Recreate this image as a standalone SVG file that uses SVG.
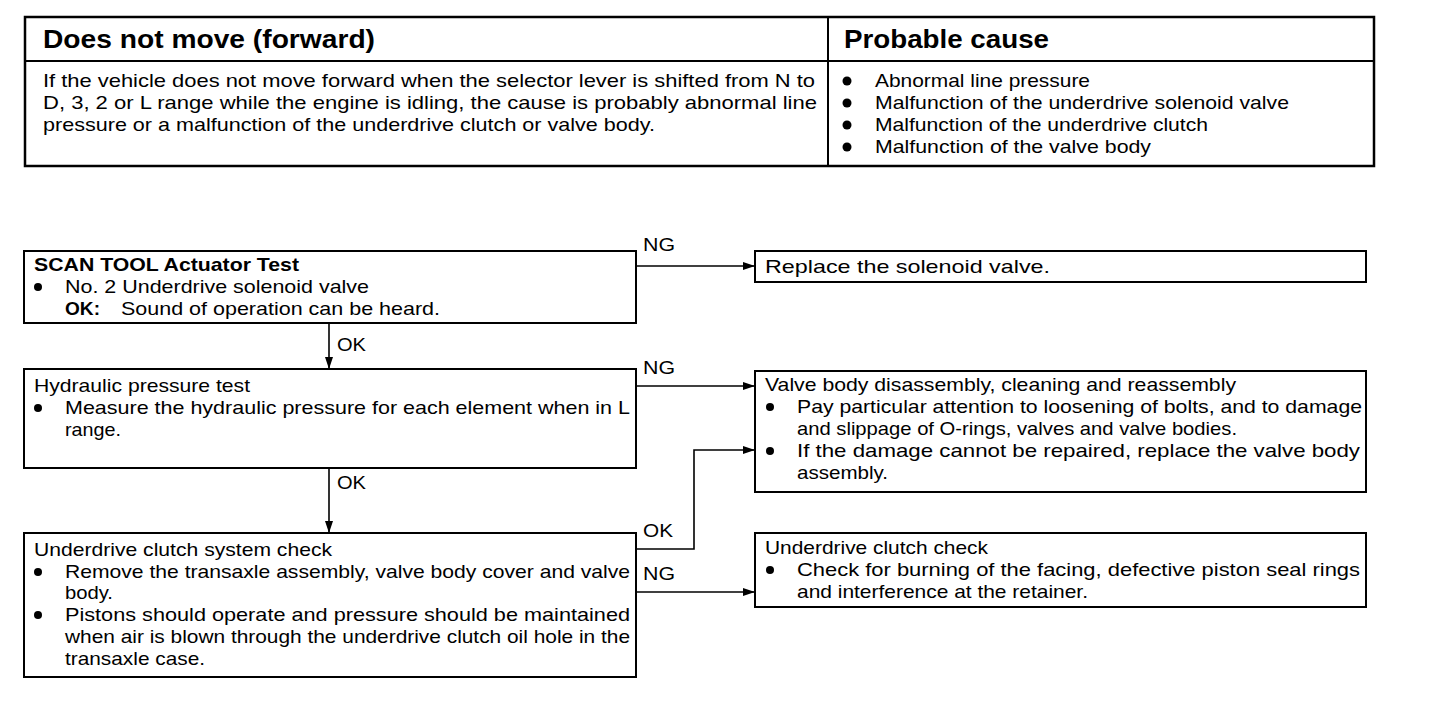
<svg xmlns="http://www.w3.org/2000/svg" width="1456" height="702" viewBox="0 0 1456 702">
<defs>
<style>
.t{font-family:"Liberation Sans",Arial,sans-serif;font-size:18.5px;fill:#000}
.b{font-weight:bold}
.h{font-family:"Liberation Sans",Arial,sans-serif;font-size:25px;font-weight:bold;fill:#000}
.box{fill:#fff;stroke:#000;stroke-width:2}
.ln{fill:none;stroke:#000;stroke-width:1.6}
</style>
<marker id="ah" viewBox="0 0 12 8" refX="12" refY="4" markerWidth="12" markerHeight="8" markerUnits="userSpaceOnUse" orient="auto">
<path d="M0,0 L12,4 L0,8 Z" fill="#000"/>
</marker>
</defs>
<rect width="1456" height="702" fill="#fff"/>

<g id="table">
<rect x="25" y="17" width="1349" height="149" fill="none" stroke="#000" stroke-width="2.5"/>
<line x1="25" y1="61" x2="1374" y2="61" stroke="#000" stroke-width="2"/>
<line x1="828" y1="17" x2="828" y2="166" stroke="#000" stroke-width="2"/>
<text class="h" x="43" y="48" textLength="332" lengthAdjust="spacingAndGlyphs">Does not move (forward)</text>
<text class="h" x="844" y="48" textLength="205" lengthAdjust="spacingAndGlyphs">Probable cause</text>
<text class="t" x="43" y="87" textLength="772" lengthAdjust="spacingAndGlyphs">If the vehicle does not move forward when the selector lever is shifted from N to</text>
<text class="t" x="43" y="109" textLength="774" lengthAdjust="spacingAndGlyphs">D, 3, 2 or L range while the engine is idling, the cause is probably abnormal line</text>
<text class="t" x="43" y="131" textLength="612" lengthAdjust="spacingAndGlyphs">pressure or a malfunction of the underdrive clutch or valve body.</text>
<circle cx="847" cy="81" r="4.5"/>
<circle cx="847" cy="103" r="4.5"/>
<circle cx="847" cy="125" r="4.5"/>
<circle cx="847" cy="147" r="4.5"/>
<text class="t" x="875" y="87" textLength="215" lengthAdjust="spacingAndGlyphs">Abnormal line pressure</text>
<text class="t" x="875" y="109" textLength="414" lengthAdjust="spacingAndGlyphs">Malfunction of the underdrive solenoid valve</text>
<text class="t" x="875" y="131" textLength="333" lengthAdjust="spacingAndGlyphs">Malfunction of the underdrive clutch</text>
<text class="t" x="875" y="153" textLength="276" lengthAdjust="spacingAndGlyphs">Malfunction of the valve body</text>
</g>

<g id="connectors">
<line class="ln" x1="636" y1="266" x2="755" y2="266" marker-end="url(#ah)"/>
<line class="ln" x1="329" y1="323" x2="329" y2="369" marker-end="url(#ah)"/>
<line class="ln" x1="636" y1="386" x2="755" y2="386" marker-end="url(#ah)"/>
<line class="ln" x1="329" y1="468" x2="329" y2="533" marker-end="url(#ah)"/>
<polyline class="ln" points="636,549 694,549 694,450 755,450" marker-end="url(#ah)"/>
<line class="ln" x1="636" y1="592" x2="755" y2="592" marker-end="url(#ah)"/>
<text class="t" x="643" y="251" textLength="32" lengthAdjust="spacingAndGlyphs">NG</text>
<text class="t" x="337" y="351" textLength="29" lengthAdjust="spacingAndGlyphs">OK</text>
<text class="t" x="643" y="374" textLength="32" lengthAdjust="spacingAndGlyphs">NG</text>
<text class="t" x="337" y="489" textLength="29" lengthAdjust="spacingAndGlyphs">OK</text>
<text class="t" x="643" y="537" textLength="30" lengthAdjust="spacingAndGlyphs">OK</text>
<text class="t" x="643" y="580" textLength="32" lengthAdjust="spacingAndGlyphs">NG</text>
</g>

<g id="scan-tool">
<rect class="box" x="24" y="251" width="612" height="72"/>
<text class="t b" x="34" y="271" textLength="265" lengthAdjust="spacingAndGlyphs">SCAN TOOL Actuator Test</text>
<circle cx="38" cy="287" r="4"/>
<text class="t" x="65" y="293" textLength="304" lengthAdjust="spacingAndGlyphs">No. 2 Underdrive solenoid valve</text>
<text class="t b" x="65" y="315" textLength="35" lengthAdjust="spacingAndGlyphs">OK:</text>
<text class="t" x="121" y="315" textLength="319" lengthAdjust="spacingAndGlyphs">Sound of operation can be heard.</text>
</g>

<g id="replace-solenoid">
<rect class="box" x="755" y="251" width="611" height="31"/>
<text class="t" x="765" y="273" textLength="285" lengthAdjust="spacingAndGlyphs">Replace the solenoid valve.</text>
</g>

<g id="hydraulic">
<rect class="box" x="24" y="369" width="612" height="99"/>
<text class="t" x="34" y="392" textLength="216" lengthAdjust="spacingAndGlyphs">Hydraulic pressure test</text>
<circle cx="38" cy="408" r="4"/>
<text class="t" x="65" y="414" textLength="565" lengthAdjust="spacingAndGlyphs">Measure the hydraulic pressure for each element when in L</text>
<text class="t" x="65" y="436" textLength="56" lengthAdjust="spacingAndGlyphs">range.</text>
</g>

<g id="valve-body">
<rect class="box" x="755" y="371" width="611" height="121"/>
<text class="t" x="765" y="391" textLength="471" lengthAdjust="spacingAndGlyphs">Valve body disassembly, cleaning and reassembly</text>
<circle cx="770" cy="407" r="4"/>
<text class="t" x="797" y="413" textLength="565" lengthAdjust="spacingAndGlyphs">Pay particular attention to loosening of bolts, and to damage</text>
<text class="t" x="797" y="435" textLength="440" lengthAdjust="spacingAndGlyphs">and slippage of O-rings, valves and valve bodies.</text>
<circle cx="770" cy="451" r="4"/>
<text class="t" x="797" y="457" textLength="563" lengthAdjust="spacingAndGlyphs">If the damage cannot be repaired, replace the valve body</text>
<text class="t" x="797" y="479" textLength="91" lengthAdjust="spacingAndGlyphs">assembly.</text>
</g>

<g id="clutch-system">
<rect class="box" x="24" y="533" width="612" height="144"/>
<text class="t" x="34" y="556" textLength="298" lengthAdjust="spacingAndGlyphs">Underdrive clutch system check</text>
<circle cx="38" cy="572" r="4"/>
<text class="t" x="65" y="578" textLength="565" lengthAdjust="spacingAndGlyphs">Remove the transaxle assembly, valve body cover and valve</text>
<text class="t" x="65" y="599" textLength="48" lengthAdjust="spacingAndGlyphs">body.</text>
<circle cx="38" cy="615" r="4"/>
<text class="t" x="65" y="621" textLength="565" lengthAdjust="spacingAndGlyphs">Pistons should operate and pressure should be maintained</text>
<text class="t" x="65" y="643" textLength="565" lengthAdjust="spacingAndGlyphs">when air is blown through the underdrive clutch oil hole in the</text>
<text class="t" x="65" y="665" textLength="140" lengthAdjust="spacingAndGlyphs">transaxle case.</text>
</g>

<g id="clutch-check">
<rect class="box" x="755" y="533" width="611" height="74"/>
<text class="t" x="765" y="554" textLength="223" lengthAdjust="spacingAndGlyphs">Underdrive clutch check</text>
<circle cx="770" cy="570" r="4"/>
<text class="t" x="797" y="576" textLength="563" lengthAdjust="spacingAndGlyphs">Check for burning of the facing, defective piston seal rings</text>
<text class="t" x="797" y="598" textLength="291" lengthAdjust="spacingAndGlyphs">and interference at the retainer.</text>
</g>
</svg>
